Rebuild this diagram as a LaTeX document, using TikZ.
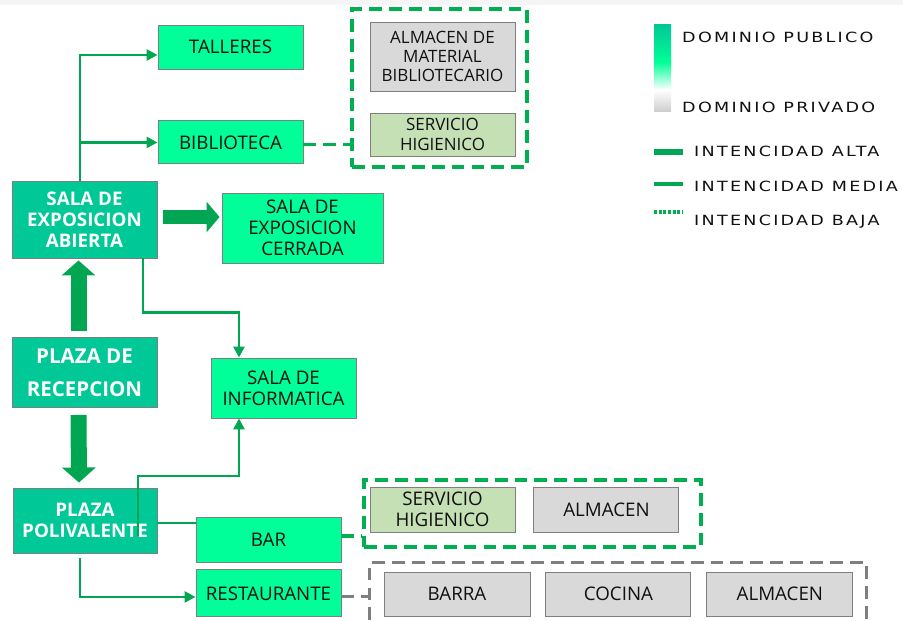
\documentclass[tikz,border=0pt]{standalone}
\usepackage{fontspec}
\setmainfont{Open Sans}
\newfontfamily\legfont[FakeStretch=1.25,LetterSpace=16]{DejaVu Sans}
\usetikzlibrary{positioning,arrows.meta}

\definecolor{pubgreen}{HTML}{00FF99}
\definecolor{hubgreen}{HTML}{00C896}
\definecolor{flowgreen}{HTML}{00A651}
\definecolor{dashgreen}{HTML}{00B050}
\definecolor{wcgreen}{HTML}{C5E0B4}
\definecolor{privgray}{HTML}{D9D9D9}
\definecolor{edgegray}{HTML}{7F7F7F}
\definecolor{inkgray}{HTML}{111111}

\begin{document}
\begin{tikzpicture}[
  x=0.03cm, y=-0.03cm,
  base/.style={draw=edgegray, line width=0.8pt, rectangle, align=center, inner sep=0pt, text=inkgray, minimum width=4.35cm},
  pub/.style={base, fill=pubgreen, font=\fontsize{16}{18}\selectfont},
  hub/.style={base, fill=hubgreen, text=white, font=\fontsize{16}{18}\selectfont\bfseries},
  priv/.style={base, fill=privgray, font=\fontsize{16}{18}\selectfont},
  wc/.style={base, fill=wcgreen, font=\fontsize{16}{18}\selectfont},
  small/.style={font=\fontsize{14.5}{16.5}\selectfont},
  grp/.style={draw=dashgreen, line width=2.6pt, dash pattern=on 11pt off 6pt, inner sep=0pt},
  flow/.style={draw=flowgreen, line width=2.2pt, -{Triangle[length=0.33cm,width=0.33cm]}},
  bigflow/.style={draw=flowgreen, line width=0.48cm, -{Triangle[width=0.99cm,length=0.45cm]}},
  lowlink/.style={draw=dashgreen, line width=2.6pt, dash pattern=on 11pt off 6pt},
  legtxt/.style={anchor=west, inner sep=0pt, text=inkgray, font=\legfont\fontsize{12}{14}\selectfont}
]
\useasboundingbox (0,0) rectangle (903,621);
\fill[gray!8] (0,0) rectangle (903,5);

% public spaces
\node[pub, minimum height=1.32cm] (talleres) at (230.5,47) {TALLERES};
\node[pub, minimum height=1.29cm, below=1.53cm of talleres] (biblioteca) {BIBLIOTECA};
\node[hub, minimum height=2.31cm] (abierta) at (84.5,219.5) {SALA DE\\EXPOSICION\\ABIERTA};
\node[pub, minimum height=2.1cm, minimum width=4.83cm] (cerrada) at (302.5,228) {SALA DE\\EXPOSICION\\CERRADA};
\node[hub, minimum height=2.1cm, font=\fontsize{17.5}{28}\selectfont\bfseries] (recep) at (84.5,372.5) {PLAZA DE\\RECEPCION};
\node[hub, minimum height=1.95cm, minimum width=4.32cm] (polivalente) at (85,520.5) {PLAZA\\POLIVALENTE};
\node[pub, minimum height=1.8cm] (informatica) at (283.5,388) {SALA DE\\INFORMATICA};
\node[pub, minimum height=1.35cm] (bar) at (268.5,539.5) {BAR};
\node[pub, minimum height=1.41cm, below=0.21cm of bar] (restaurante) {RESTAURANTE};

% private spaces
\node[grp, minimum width=5.25cm, minimum height=4.74cm] (grpbib) at (439.5,88) {};
\node[priv, small, minimum height=2.07cm] (almbib) at (442.5,56.5) {ALMACEN DE\\MATERIAL\\BIBLIOTECARIO};
\node[wc, small, minimum height=1.29cm] (wcbib) at (442.5,134.5) {SERVICIO\\HIGIENICO};

\node[grp, minimum width=10.11cm, minimum height=2.01cm] (grpbar) at (532.5,513.5) {};
\node[wc, minimum height=1.35cm] (wcbar) at (442.5,509.5) {SERVICIO\\HIGIENICO};
\node[priv, minimum height=1.35cm, right=0.54cm of wcbar] (almbar) {ALMACEN};

\node[minimum width=14.88cm, minimum height=2.31cm, inner sep=0pt] (grpres) at (618,601.5) {};
\draw[draw=edgegray, line width=2.6pt, dash pattern=on 11pt off 6pt] (grpres.south west) |- (grpres.north east) -- (grpres.south east);
\node[priv, minimum height=1.32cm, minimum width=4.38cm] (barra) at (457,594) {BARRA};
\node[priv, minimum height=1.32cm, right=0.45cm of barra] (cocina) {COCINA};
\node[priv, minimum height=1.32cm, minimum width=4.38cm, right=0.45cm of cocina] (almres) {ALMACEN};

% high intensity
\draw[bigflow, shorten <=0.18cm, shorten >=0.06cm] ([xshift=-0.18cm]recep.north) -- ([xshift=-0.18cm]abierta.south);
\draw[bigflow, shorten <=0.21cm, shorten >=0.15cm] ([xshift=-0.18cm]recep.south) -- ([xshift=-0.18cm]polivalente.north);
\draw[bigflow, line width=0.42cm, -{Triangle[width=0.9cm,length=0.39cm]}, shorten <=0.18cm, shorten >=0.06cm] ([yshift=0.075cm]abierta.east) -- ([yshift=0.075cm]abierta.east -| cerrada.west);

% medium intensity
\draw[flow] ([xshift=-0.135cm]abierta.north) |- ([yshift=-0.24cm]talleres.west);
\draw[flow] ([xshift=-0.135cm]abierta.north |- biblioteca.west) -- (biblioteca.west);
\draw[flow] ([xshift=1.755cm]abierta.south) -- ++(0,54) -| ([xshift=-1.335cm]informatica.north);
\draw[flow] ([xshift=1.59cm,yshift=-0.465cm]polivalente.center) -- ++(0,-60) -| ([xshift=-1.335cm]informatica.south);
\draw[flow, -] ([yshift=-0.075cm]polivalente.east) -- ([yshift=-0.075cm]polivalente.east -| bar.west);
\draw[flow, shorten <=0.15cm] ([xshift=-0.15cm]polivalente.south) |- ([yshift=-0.105cm]restaurante.west);

% low intensity
\draw[lowlink] ([yshift=-0.075cm]biblioteca.east) -- ([yshift=-0.075cm]biblioteca.east -| grpbib.west);
\draw[lowlink] ([yshift=0.105cm]bar.east) -- ([yshift=0.105cm]bar.east -| grpbar.west);
\draw[lowlink, draw=edgegray] ([yshift=-0.105cm]restaurante.east) -- ([yshift=-0.105cm]restaurante.east -| grpres.west);

% legend
\shade[top color=hubgreen, bottom color=pubgreen] (654,25) rectangle (671,62);
\shade[top color=pubgreen, bottom color=white] (654,62) rectangle (671,90);
\shade[top color=white, bottom color=gray!40] (654,90) rectangle (671,112);
\node[legtxt] (legpub) at (682,37) {DOMINIO PUBLICO};
\node[legtxt] (legpriv) at (682,107) {DOMINIO PRIVADO};
\fill[flowgreen] (654,149) rectangle (683,155);
\node[legtxt] (legalta) at (694,151.5) {INTENCIDAD ALTA};
\draw[flowgreen, line width=2.6pt] (654,184) -- (683,184);
\node[legtxt] (legmedia) at (694,186.5) {INTENCIDAD MEDIA};
\draw[dashgreen, line width=2.6pt, dash pattern=on 2.5pt off 1.5pt] (654,212) -- (683,212);
\node[legtxt] (legbaja) at (694,221.5) {INTENCIDAD BAJA};
\end{tikzpicture}
\end{document}
